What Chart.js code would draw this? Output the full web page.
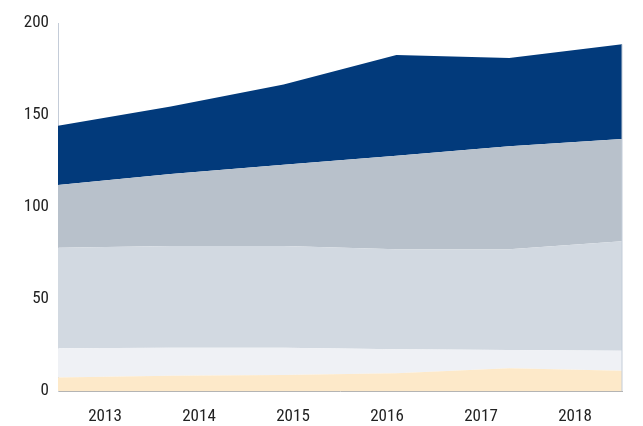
<!DOCTYPE html>
<html>
<head>
<meta charset="utf-8">
<script src="https://cdn.jsdelivr.net/npm/chart.js@4/dist/chart.umd.min.js"></script>
<style>
  html, body { margin: 0; padding: 0; background: #fff; }
  #wrap { width: 643px; height: 426px; }
</style>
</head>
<body>
<div id="wrap"><canvas id="areaChart"></canvas></div>
<script>
// Tahun (label sumbu x)
const years = ['2013', '2014', '2015', '2016', '2017', '2018'];

// Nilai tiap lapisan, dari bawah ke atas
const creamSeries = [7.4, 8.3, 8.7, 9.6, 12.3, 11.0];
const paleSeries  = [15.8, 15.2, 14.8, 13.1, 10.0, 10.9];
const lightSeries = [54.7, 55.3, 55.3, 54.3, 54.7, 59.5];
const greySeries  = [34.1, 39.1, 44.1, 50.9, 56.0, 55.6];
const navySeries  = [32.2, 36.7, 43.7, 54.7, 48.0, 51.4];

// Label sumbu y
const yTicks = [0, 50, 100, 150, 200];

const FONT = "'Liberation Sans Narrow', 'Roboto Condensed', 'DejaVu Sans Condensed', sans-serif";

function toPoints(arr) {
  return arr.map((v, i) => ({ x: i, y: v }));
}

function layer(values, color, fill) {
  return {
    data: toPoints(values),
    backgroundColor: color,
    borderWidth: 0,
    pointRadius: 0,
    tension: 0,
    fill: fill
  };
}

// Garis tipis di tepi kanan area
const edgeLine = {
  id: 'edgeLine',
  afterDatasetsDraw(chart) {
    const { ctx, scales } = chart;
    const last = years.length - 1;
    const total = creamSeries[last] + paleSeries[last] + lightSeries[last] + greySeries[last] + navySeries[last];
    const x = scales.x.getPixelForValue(last);
    ctx.save();
    ctx.strokeStyle = '#c3ccd8';
    ctx.lineWidth = 1;
    ctx.beginPath();
    ctx.moveTo(x, scales.y.getPixelForValue(total));
    ctx.lineTo(x, scales.y.getPixelForValue(0));
    ctx.stroke();
    ctx.restore();
  }
};

const ctx = document.getElementById('areaChart').getContext('2d');
new Chart(ctx, {
  type: 'line',
  data: {
    datasets: [
      layer(creamSeries, '#fde9c9', 'origin'),
      layer(paleSeries, '#eff1f5', '-1'),
      layer(lightSeries, '#d2d9e1', '-1'),
      layer(greySeries, '#b8c1cb', '-1'),
      layer(navySeries, '#023a7b', '-1')
    ]
  },
  plugins: [edgeLine],
  options: {
    responsive: true,
    maintainAspectRatio: false,
    animation: false,
    layout: { padding: { top: 23, right: 21, left: 0, bottom: 0 } },
    plugins: {
      legend: { display: false },
      tooltip: { enabled: false }
    },
    scales: {
      x: {
        type: 'linear',
        min: 0,
        max: years.length - 1,
        z: 1,
        grid: { display: false, drawTicks: false },
        border: { display: true, color: '#b4b4b4', dash: [4, 3] },
        afterBuildTicks(axis) {
          const span = years.length - 1;
          axis.ticks = years.map((y, i) => ({ value: (i + 0.5) * span / years.length }));
        },
        afterFit(axis) { axis.height = 35; },
        ticks: {
          autoSkip: false,
          maxRotation: 0,
          padding: 16,
          color: '#222',
          font: { family: FONT, size: 17 },
          callback: (value, index) => years[index]
        }
      },
      y: {
        stacked: true,
        min: 0,
        max: 200,
        z: 1,
        grid: { display: false, drawTicks: false },
        border: { display: true, color: '#c4ccd8', dash: [5, 4] },
        afterBuildTicks(axis) {
          axis.ticks = yTicks.map(v => ({ value: v }));
        },
        afterFit(axis) { axis.width = 58; },
        ticks: {
          padding: 9,
          color: '#222',
          font: { family: FONT, size: 17 }
        }
      }
    }
  }
});
</script>
</body>
</html>
